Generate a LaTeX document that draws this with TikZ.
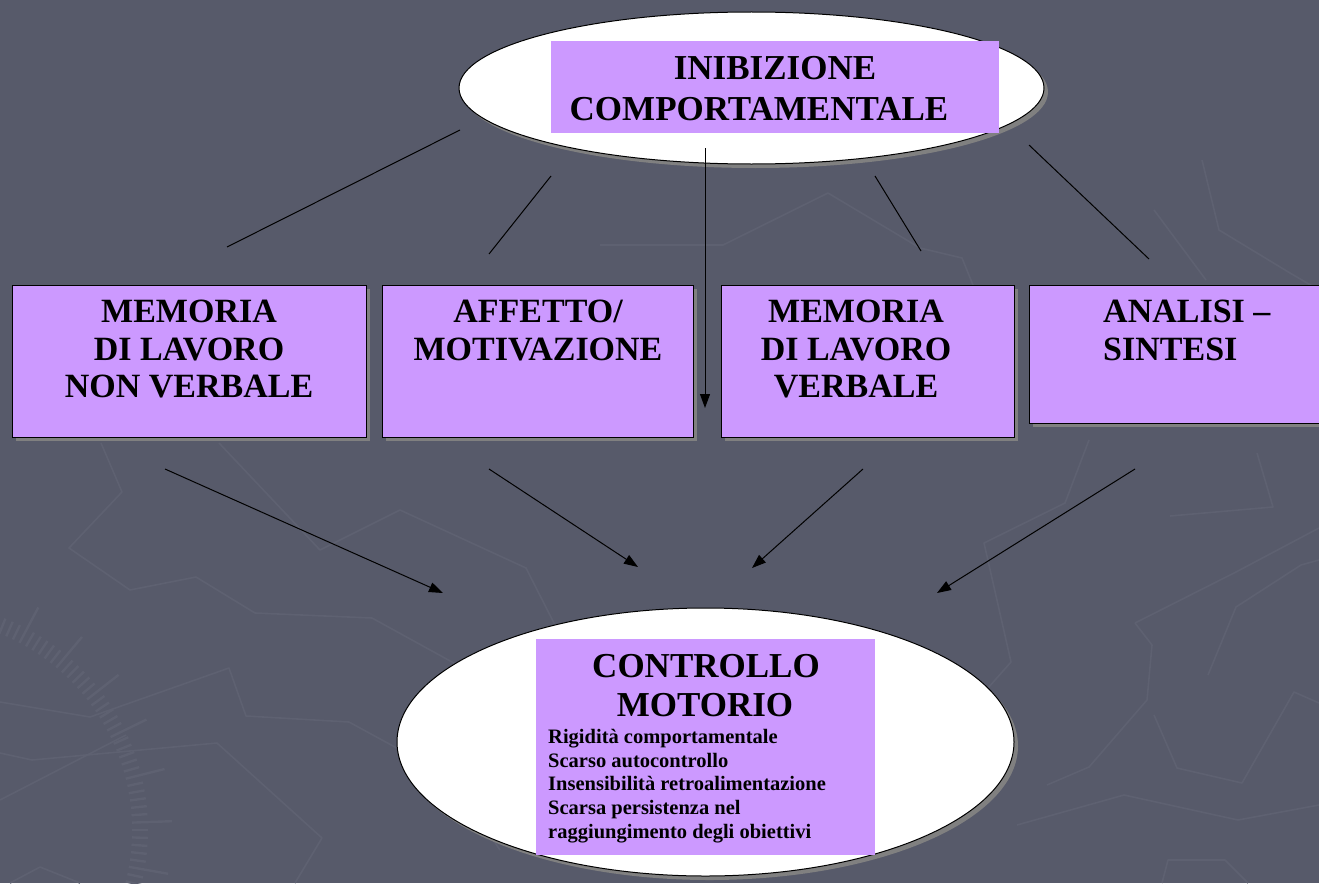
\documentclass[tikz,border=0pt]{standalone}
\usepackage{fontspec}
\setmainfont{Liberation Serif}
\usetikzlibrary{arrows.meta,shapes.geometric,shadows}
\definecolor{bgslate}{RGB}{87,90,106}
\definecolor{deco}{RGB}{94,97,113}
\definecolor{lilac}{RGB}{204,153,255}
\definecolor{shade}{RGB}{128,128,128}
\tikzset{
  shadowed/.style={drop shadow={shadow xshift=4pt,shadow yshift=-4pt,fill=shade,opacity=1}},
  boxnode/.style={draw=black,line width=1pt,fill=lilac,inner sep=0pt,shadowed},
  ovalnode/.style={ellipse,draw=black,line width=1pt,fill=white,inner sep=0pt,shadowed},
  panel/.style={fill=lilac,inner sep=0pt},
  bigtxt/.style={font=\fontsize{34}{37.5}\selectfont\bfseries,inner sep=0pt,align=center,anchor=north},
  titletxt/.style={font=\fontsize{35}{39}\selectfont\bfseries,inner sep=0pt,anchor=base},
  smalltxt/.style={font=\fontsize{20.5}{23.7}\selectfont\bfseries,inner sep=0pt,align=left,anchor=north west},
  link/.style={draw=black,line width=1pt},
  arrowlink/.style={link,-{Triangle[length=14pt,width=10pt]}},
  decoline/.style={draw=deco,line width=1.6pt,line join=round},
}
\begin{document}
\begin{tikzpicture}[x=1pt,y=-1pt]
\path[use as bounding box,clip] (0,0) rectangle (1319,883);
\fill[bgslate] (0,0) rectangle (1319,883);
% faint background decoration
\draw[decoline] (101,443) -- (122,492) -- (69,548) -- (130,590) -- (196,577) -- (255,613) -- (372,618) -- (452,662) -- (520,700);
\draw[decoline] (219,443) -- (320,550) -- (400,510) -- (526,568) -- (556,627) -- (575,680);
\draw[decoline] (0,702) -- (90,717) -- (229,668) -- (246,716) -- (349,722) -- (450,777) -- (500,850);
\draw[decoline] (0,753) -- (32,760) -- (217,743) -- (322,838) -- (295,883);
\draw[decoline] (0,800) -- (126,735);
\draw[decoline] (10,883) -- (40,867) -- (80,883);
\draw[decoline] (1089,440) -- (1065,503) -- (984,543) -- (1011,662) -- (988,688) -- (960,720);
\draw[decoline] (1170,516) -- (1273,507) -- (1257,453);
\draw[decoline] (1135,623) -- (1152,645) -- (1147,700) -- (1089,767) -- (1047,785);
\draw[decoline] (1135,623) -- (1236,572) -- (1319,528);
\draw[decoline] (1154,715) -- (1177,768) -- (1242,783) -- (1294,692) -- (1319,703);
\draw[decoline] (1208,675) -- (1236,607) -- (1301,565) -- (1319,560);
\draw[decoline] (1017,825) -- (1124,795) -- (1238,820) -- (1319,805);
\draw[decoline] (1162,883) -- (1168,860) -- (1225,860) -- (1248,883);
\draw[decoline] (600,245) -- (723,245) -- (828,193) -- (920,248) -- (962,258) -- (975,290);
\draw[decoline] (1202,160) -- (1219,230) -- (1290,273) -- (1319,290);
\draw[decoline] (1154,210) -- (1206,280);
\foreach \a [count=\i] in {-72,-70,...,16}{
  \pgfmathsetmacro{\len}{mod(\i,6)==0 ? 40 : 16}
  \draw[deco,line width=2.4pt] (-80,830) ++(\a:212) -- ++(\a:\len);
}
% top oval
\node[ovalnode,minimum width=585pt,minimum height=152pt] (top) at (751.5,88) {};
\node[panel,minimum width=448.5pt,minimum height=92pt] (toppanel) at (774.75,87) {};
\node[titletxt,font=\fontsize{35}{41}\selectfont\bfseries] (tt1) at (775,79) {INIBIZIONE};
\node[titletxt,font=\fontsize{35}{41}\selectfont\bfseries] (tt2) at (759,120) {COMPORTAMENTALE};
% boxes
\node[boxnode,minimum width=354pt,minimum height=152pt] (b1) at (189,361) {};
\node[boxnode,minimum width=311pt,minimum height=152pt] (b2) at (537.5,361) {};
\node[boxnode,minimum width=293pt,minimum height=152pt] (b3) at (867.5,361) {};
\node[boxnode,minimum width=296pt,minimum height=138pt] (b4) at (1177,354) {};
\node[bigtxt] (b1t) at (189,300) {MEMORIA\\DI LAVORO\\NON VERBALE};
\node[bigtxt] (b2t) at (538,300) {AFFETTO/\\MOTIVAZIONE};
\node[bigtxt] (b3t) at (856,300) {MEMORIA\\DI LAVORO\\VERBALE};
\node[bigtxt,align=left,anchor=north west] (b4t) at (1103,300) {ANALISI –\\SINTESI};
% bottom oval
\node[ovalnode,minimum width=617pt,minimum height=268pt] (bot) at (705.5,742) {};
\node[panel,minimum width=339pt,minimum height=216pt] (botpanel) at (705.5,747) {};
\node[titletxt] (bt1) at (706,677) {CONTROLLO};
\node[titletxt] (bt2) at (705,716) {MOTORIO};
\node[smalltxt] (blist) at (548,729) {Rigidità comportamentale\\Scarso autocontrollo\\Insensibilità retroalimentazione\\Scarsa persistenza nel\\raggiungimento degli obiettivi};
% connector end points
\coordinate (l1a) at (460,130); \coordinate (l1b) at (227,247);
\coordinate (l2a) at (551,176); \coordinate (l2b) at (489,254);
\coordinate (l3a) at (875,176); \coordinate (l3b) at (921,251);
\coordinate (l4a) at (1029,145); \coordinate (l4b) at (1149,259);
\coordinate (va) at (705,148); \coordinate (vb) at (705,408);
\coordinate (a1a) at (165,469); \coordinate (a1b) at (443,593);
\coordinate (a2a) at (489,469); \coordinate (a2b) at (638,567);
\coordinate (a3a) at (863,469); \coordinate (a3b) at (752,568);
\coordinate (a4a) at (1135,469); \coordinate (a4b) at (937,593);
% connectors
\draw[link] (l1a) -- (l1b);
\draw[link] (l2a) -- (l2b);
\draw[link] (l3a) -- (l3b);
\draw[link] (l4a) -- (l4b);
\draw[arrowlink] (va) -- (vb);
\draw[arrowlink] (a1a) -- (a1b);
\draw[arrowlink] (a2a) -- (a2b);
\draw[arrowlink] (a3a) -- (a3b);
\draw[arrowlink] (a4a) -- (a4b);
\end{tikzpicture}
\end{document}
